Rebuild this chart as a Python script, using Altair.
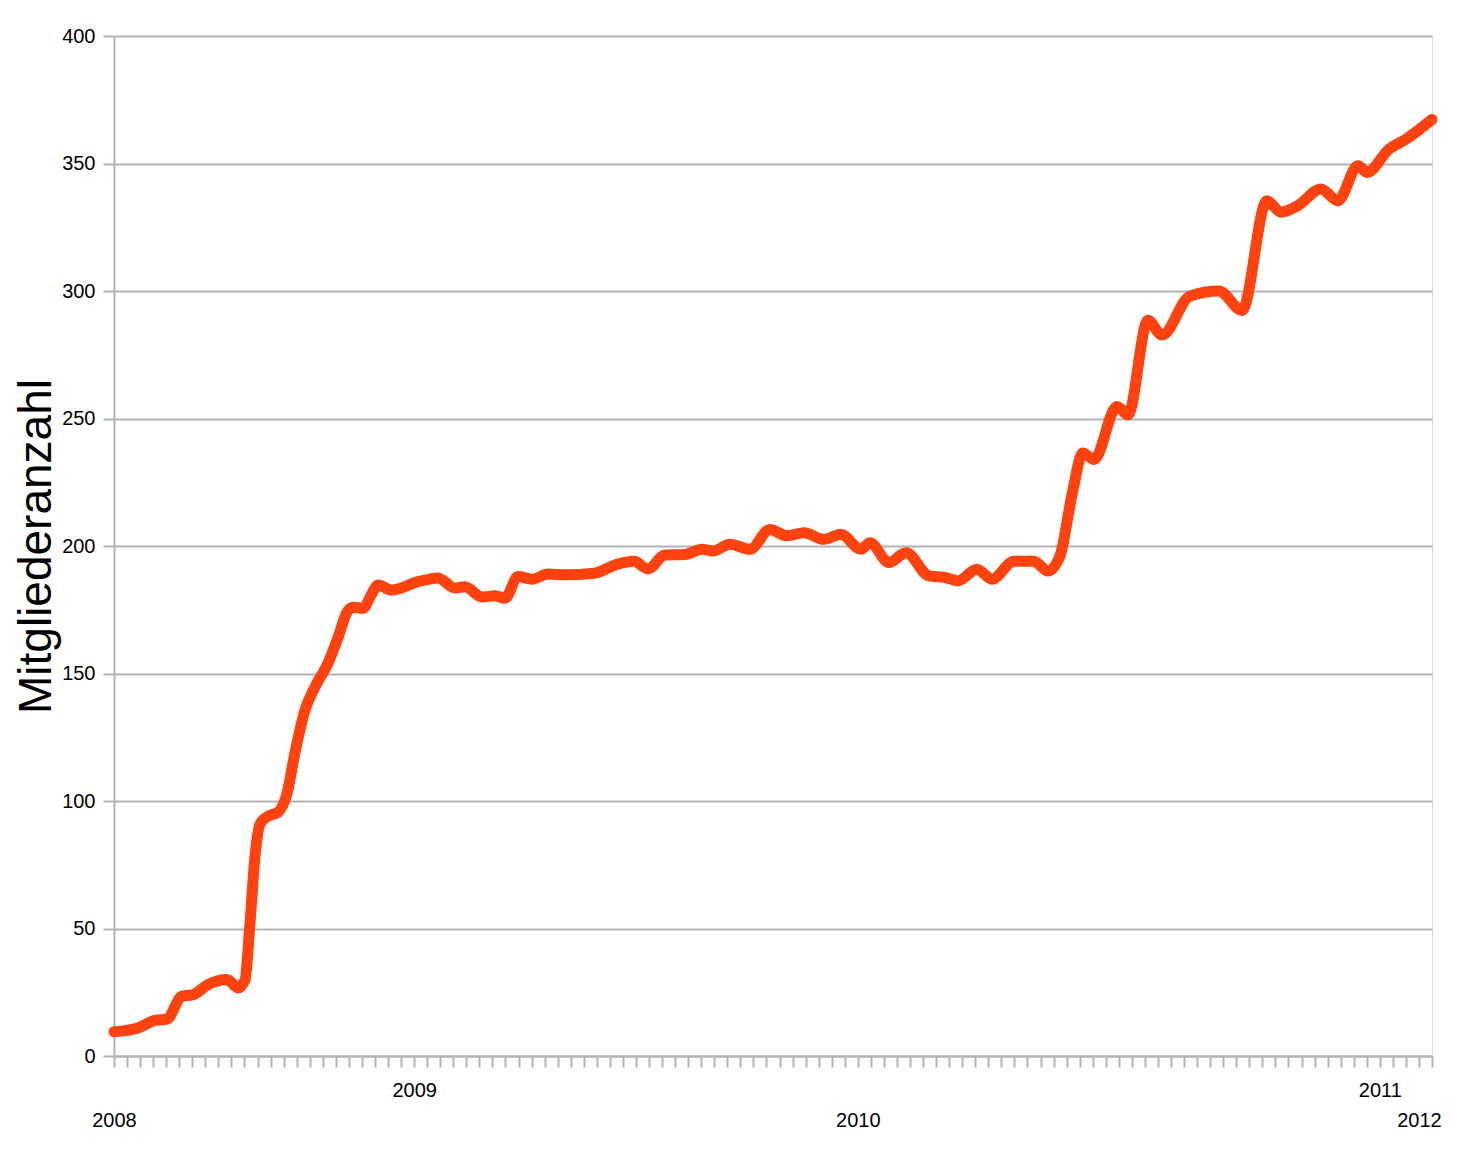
import altair as alt
import pandas as pd

# x position in tick units (one tick per category on the axis), value = member count
t_pos = [0.00, 1.84, 3.14, 4.06, 5.21, 6.05, 7.20, 8.66, 9.50, 10.04, 10.42, 10.80,
         11.19, 11.80, 12.57, 13.26, 13.87, 14.64, 15.40, 16.40, 17.16, 17.85, 18.31,
         19.08, 19.77, 20.23, 21.30, 23.30, 24.83, 26.13, 26.90, 28.20, 29.20, 29.96,
         30.96, 32.03, 33.26, 34.56, 36.78, 38.54, 39.85, 40.92, 42.22, 43.75, 45.06,
         45.90, 47.20, 48.74, 50.27, 51.57, 52.87, 54.41, 55.71, 57.24, 57.93, 59.39,
         60.69, 62.45, 63.75, 64.67, 66.13, 67.28, 68.97, 70.50, 71.57, 72.49, 73.41,
         74.25, 75.10, 76.86, 77.70, 79.23, 80.31, 82.45, 84.67, 86.44, 88.35, 89.43,
         90.73, 92.49, 93.79, 95.33, 96.02, 97.70, 99.00, 101.00]
members = [9.5, 11.0, 14.0, 14.5, 23.5, 24.0, 28.0, 30.0, 26.7, 29.8, 52.0, 78.0,
           91.0, 94.0, 95.6, 103.0, 119.0, 135.7, 144.7, 154.0, 164.0, 174.0, 176.0,
           175.6, 181.4, 184.7, 182.7, 186.0, 187.5, 183.5, 184.0, 180.0, 180.5, 179.5,
           188.0, 187.0, 189.0, 188.7, 189.3, 192.8, 194.0, 191.0, 196.5, 196.7, 198.7,
           198.0, 200.7, 198.7, 206.5, 204.0, 205.2, 202.6, 204.6, 198.7, 201.3, 193.5,
           197.4, 188.3, 187.6, 186.3, 190.9, 187.0, 194.0, 194.0, 190.2, 196.1, 220.0,
           236.5, 233.9, 254.7, 251.4, 288.5, 282.7, 298.0, 300.0, 292.4, 335.4, 330.9,
           333.5, 340.0, 335.4, 349.1, 346.5, 355.6, 359.5, 367.3]

tick_count = 101
upper_pos = [23, 97]
upper_txt = ["2009", "2011"]
lower_pos = [0, 57, 100]
lower_txt = ["2008", "2010", "2012"]

y_ticks = [0, 50, 100, 150, 200, 250, 300, 350, 400]

df = pd.DataFrame({"t": t_pos, "v": members})

expr = "''"
for p, s in zip(upper_pos, upper_txt):
    expr = f"datum.value == {p} ? '{s}' : ({expr})"
for p, s in zip(lower_pos, lower_txt):
    expr = f"datum.value == {p} ? ['', '{s}'] : ({expr})"

grey = "#b3b3b3"
font = "Liberation Sans"

chart = alt.Chart(df).mark_line(
    color="#FF420E", strokeWidth=11, interpolate="monotone",
    strokeCap="round", strokeJoin="round"
).encode(
    x=alt.X("t:Q",
            scale=alt.Scale(domain=[0, tick_count], nice=False, zero=False),
            axis=alt.Axis(values=list(range(0, tick_count + 1)), labelExpr=expr,
                          title=None, grid=False, labelOverlap=False, labelFlush=False,
                          labelBound=False, tickSize=11, tickColor=grey, tickWidth=2,
                          domainColor=grey, domainWidth=2, labelPadding=13,
                          labelLineHeight=30, labelBaseline="top",
                          labelFont=font, labelFontSize=20, labelColor="#000000")),
    y=alt.Y("v:Q",
            scale=alt.Scale(domain=[0, 400], nice=False),
            axis=alt.Axis(values=y_ticks, title="Mitgliederanzahl",
                          titleFont=font, titleFontSize=46, titleFontWeight="normal",
                          titleColor="#000000", titleX=-64, titleBaseline="alphabetic",
                          gridColor=grey, gridWidth=2, tickSize=11, tickColor=grey,
                          tickWidth=2, domainColor=grey, domainWidth=2, labelPadding=8,
                          labelFont=font, labelFontSize=20, labelColor="#000000")),
).properties(
    width=1318, height=1020,
    autosize=alt.AutoSizeParams(type="none"),
    padding={"left": 106, "top": 28, "right": 24, "bottom": 90},
).configure_view(stroke=grey, strokeWidth=2).configure(background="white")

chart.save("out.html", embed_options={"renderer": "svg", "actions": False})
